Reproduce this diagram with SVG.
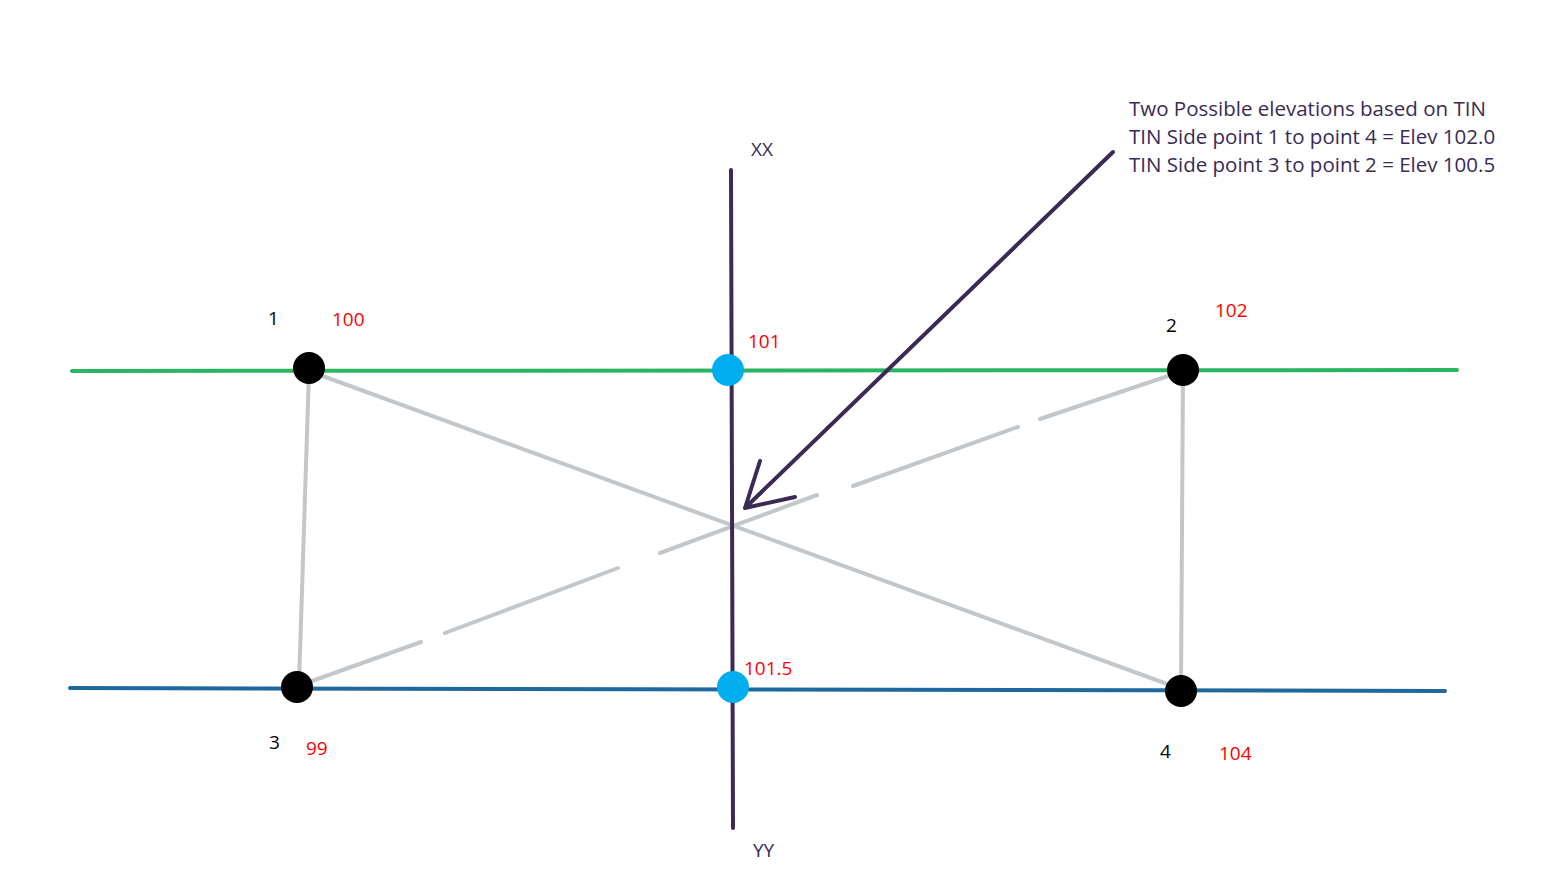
<svg xmlns="http://www.w3.org/2000/svg" width="1567" height="891" viewBox="0 0 1567 891">
<style>
.t{font-family:"Open Sans","Noto Sans","Liberation Sans",sans-serif;font-size:19px}
.n{font-size:20.5px}
.k{fill:#000}
.r{fill:#ff0000}
.p{fill:#3b2a55}
.g{stroke:#c2c7cb;stroke-width:4;stroke-linecap:round;fill:none}
.dot{fill:#000}
.cy{fill:#00adef}
</style>
<rect width="1567" height="891" fill="#fff"/>
<g id="connectors">
<line x1="72" y1="371" x2="1457" y2="370" stroke="#28b463" stroke-width="4" stroke-linecap="round"/>
<line x1="70" y1="688" x2="1445" y2="691" stroke="#1f689e" stroke-width="4" stroke-linecap="round"/>
<path class="g" d="M309 371 L299 684 M309 371 L1181 689 M1183 371 L1181 686"/>
<path class="g" d="M298 686 L421 642 M445 633 L618 568 M660 553 L817 495 M853 486 L1018 427 M1040 419 L1183 371"/>
<line x1="731" y1="170" x2="733" y2="828" stroke="#3b2a55" stroke-width="4" stroke-linecap="round"/>
<path d="M1113 152 L745 508 M760 461 L745 508 L795 497" stroke="#3b2a55" stroke-width="4" stroke-linecap="round" stroke-linejoin="round" fill="none"/>
</g>
<g id="p1"><circle class="dot" cx="309" cy="368" r="16"/></g>
<g id="p2"><circle class="dot" cx="1183" cy="370" r="16"/></g>
<g id="p3"><circle class="dot" cx="297" cy="687" r="16"/></g>
<g id="p4"><circle class="dot" cx="1181" cy="691" r="16"/></g>
<g id="i1"><circle class="cy" cx="728" cy="370" r="16"/></g>
<g id="i2"><circle class="cy" cx="733" cy="687" r="16"/></g>
<g id="labels">
<text class="t k" x="268" y="325">1</text>
<text class="t r" x="332" y="326">100</text>
<text class="t k" x="1166" y="332">2</text>
<text class="t r" x="1215" y="317">102</text>
<text class="t r" x="748" y="348">101</text>
<text class="t r" x="744" y="675">101.5</text>
<text class="t k" x="269" y="749">3</text>
<text class="t r" x="306" y="755">99</text>
<text class="t k" x="1160" y="758">4</text>
<text class="t r" x="1219" y="760">104</text>
<text class="t p" x="751" y="156">XX</text>
<text class="t p" x="753" y="857">YY</text>
</g>
<g id="note">
<text class="t n p" x="1129" y="116">Two Possible elevations based on TIN</text>
<text class="t n p" x="1129" y="144">TIN Side point 1 to point 4 = Elev 102.0</text>
<text class="t n p" x="1129" y="172">TIN Side point 3 to point 2 = Elev 100.5</text>
</g>
</svg>
